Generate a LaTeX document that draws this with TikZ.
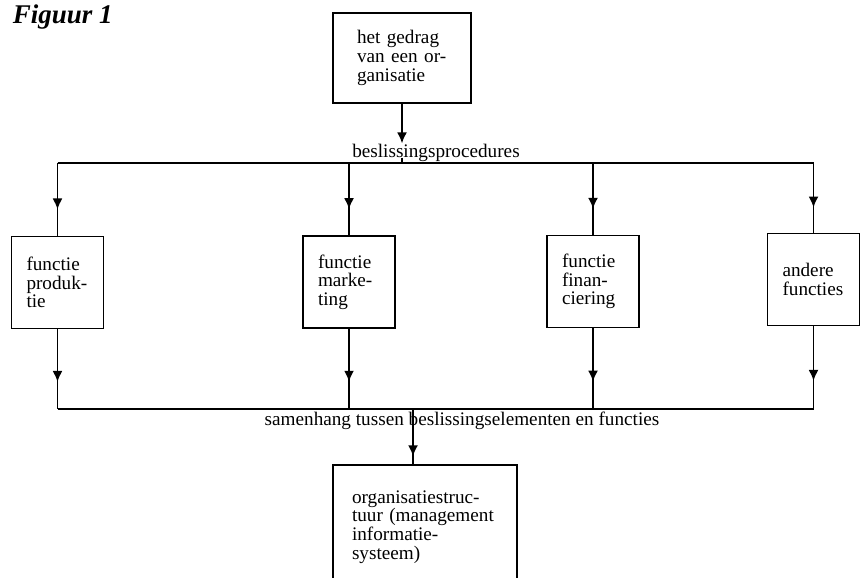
\documentclass[tikz,border=0pt]{standalone}
\usepackage{fontspec}
\setmainfont{Liberation Serif}
\usetikzlibrary{arrows.meta,decorations.markings}

\begin{document}
\begin{tikzpicture}[x=0.5pt,y=-0.5pt,>={Latex[length=5.5pt,width=5pt]},line width=0.9pt,
    font=\fontsize{9.6}{9.3}\selectfont,
    blok/.style={draw,align=left,inner ysep=0pt,minimum height=46pt},
    fblok/.style={blok,text width=31pt,inner xsep=7.5pt},
    midarr/.style={postaction={decorate},decoration={markings,mark=at position #1 with {\arrow{>}}}}]
    \useasboundingbox (0,0) rectangle (865,577);
    \clip (0,0) rectangle (865,577);
    \node[anchor=base west,inner sep=0pt,font=\fontsize{13.5}{15}\selectfont\bfseries\itshape] (fig) at (12,24) {Figuur 1};
    \node[blok,text width=45pt,inner xsep=12pt,minimum height=45pt] (g) at (402,58) {het gedrag\\van een or-\\ganisatie};
    \node[inner sep=0pt] (bp) at (436,153) {beslissingsprocedures};
    \coordinate (bt) at (0,163);
    \coordinate (bb) at (0,409);
    \node[fblok] (f1) at (57.5,282.5) {functie\\produk-\\tie};
    \node[fblok] (f2) at (349,282) {functie\\marke-\\ting};
    \node[fblok] (f3) at (593,281.5) {functie\\finan-\\ciering};
    \node[fblok] (f4) at (813.5,279.5) {andere\\functies};
    \node[inner sep=0pt] (sh) at (462,421) {samenhang tussen beslissingselementen en functies};
    \node[blok,anchor=north,text width=73pt,inner xsep=9.5pt,minimum height=62pt] (o) at (425,464)
      {organisatiestruc-\\tuur (management\\informatie-\\systeem)};
    \coordinate (jb) at (413,409);
    \draw[->] (g) -- (g.south |- bp.north);
    \draw (g.south |- bp.base) -- (g.south |- bt);
    \draw (f1.north |- bt) -- (f4.north |- bt);
    \draw (f1.south |- bb) -- (f4.south |- bb);
    \foreach \b in {f1,f2,f3,f4} {
      \draw[midarr=0.64] (\b.north |- bt) -- (\b.north);
      \draw[midarr=0.66] (\b.south) -- (\b.south |- bb);
    }
    \draw[midarr=0.86] (jb) -- (jb |- o.north);
\end{tikzpicture}
\end{document}
